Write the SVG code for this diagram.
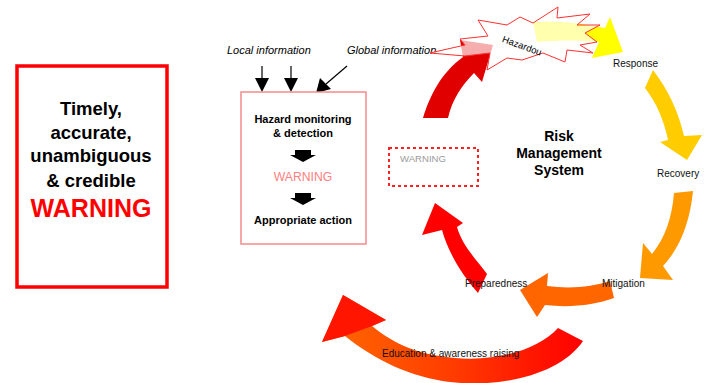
<svg xmlns="http://www.w3.org/2000/svg" width="710" height="383" viewBox="0 0 710 383">
<defs>
<style>
.t{font-family:"Liberation Sans",Arial,sans-serif;fill:#000}
.b{font-weight:bold}
.i{font-style:italic}
.lbl{font-family:"Liberation Sans",Arial,sans-serif;font-size:10px;fill:#111}
</style>
<linearGradient id="edu" x1="0" y1="0" x2="1" y2="0">
<stop offset="0" stop-color="#ff6a00"/>
<stop offset="0.5" stop-color="#ff3c00"/>
<stop offset="1" stop-color="#ff0000"/>
</linearGradient>
<marker id="ah" viewBox="0 0 10 10" refX="9" refY="5" markerWidth="5" markerHeight="5.5" orient="auto" markerUnits="userSpaceOnUse">
<path d="M0,0 L10,5 L0,10 Z" fill="#000"/>
</marker>
</defs>
<rect width="710" height="383" fill="#fff"/>

<g id="warning-box">
<rect x="17" y="66" width="150" height="221" fill="#fff" stroke="#ff0000" stroke-width="3.5"/>
<text class="t b" x="91" y="115" font-size="18.5" text-anchor="middle">Timely,</text>
<text class="t b" x="91" y="139" font-size="18.5" text-anchor="middle">accurate,</text>
<text class="t b" x="91" y="162" font-size="18.5" text-anchor="middle">unambiguous</text>
<text class="t b" x="91" y="187" font-size="18.5" text-anchor="middle">&amp; credible</text>
<text class="t b" x="91" y="217" font-size="25" text-anchor="middle" fill="#ff0000" style="fill:#ff0000">WARNING</text>
</g>

<g id="info-labels">
<text class="t i" x="227" y="54" font-size="11">Local information</text>
<text class="t i" x="347" y="54" font-size="11">Global information</text>
</g>

<g id="connectors">
<line x1="262" y1="66" x2="262" y2="78" stroke="#000" stroke-width="1.2"/>
<path d="M255,78 L269,78 L262,92 Z" fill="#000"/>
<line x1="291" y1="66" x2="291" y2="78" stroke="#000" stroke-width="1.2"/>
<path d="M284,78 L298,78 L291,92 Z" fill="#000"/>
<line x1="347" y1="66" x2="326" y2="84" stroke="#000" stroke-width="1.2"/>
<path d="M320,78 L331,89 L316,93 Z" fill="#000"/>
</g>

<g id="monitoring-box">
<rect x="241" y="92" width="125" height="152" fill="#fff" stroke="#f58a8a" stroke-width="1.5"/>
<text class="t b" x="303" y="123" font-size="11" text-anchor="middle">Hazard monitoring</text>
<text class="t b" x="303" y="137" font-size="11" text-anchor="middle">&amp; detection</text>
<path d="M295,150 L311,150 L311,155 L316,155 L303,162 L290,155 L295,155 Z" fill="#000"/>
<text class="t" x="303" y="181" font-size="12.2" text-anchor="middle" style="fill:#ff8080">WARNING</text>
<path d="M295,193 L311,193 L311,198 L316,198 L303,205 L290,198 L295,198 Z" fill="#000"/>
<text class="t b" x="303" y="224" font-size="11" text-anchor="middle">Appropriate action</text>
</g>

<g id="warning-dashed">
<rect x="389" y="148" width="89" height="38" fill="none" stroke="#ff2020" stroke-width="2" stroke-dasharray="3,3"/>
<text class="t" x="400" y="162" font-size="9.6" style="fill:#9a9a9a">WARNING</text>
</g>

<g id="rms-title">
<text class="t b" x="559" y="141" font-size="14" text-anchor="middle">Risk</text>
<text class="t b" x="559" y="158" font-size="14" text-anchor="middle">Management</text>
<text class="t b" x="559" y="175" font-size="14" text-anchor="middle">System</text>
</g>

<g id="arrow-warning">
<path d="M423,118 C430,95 442,72 463,57 L460,40 L493,45 L482,82 L474,73 C462,85 452,100 448,118 Z" fill="#e00000"/>
</g>
<g id="arrow-response">
<path d="M533,22 C560,20 585,24 605,28 L610,17 L623,52 L592,58 L599,42 C580,40 558,40 537,42 Z" fill="#ffff00"/>
</g>

<g id="hazard">
<path d="M430,53 L465,45 L460,39 L488,36 L478,20 L507,25 L520,17 L533,23 L558,7 L557,18 L590,14 L577,25 L600,25 L585,33 L597,42 L580,45 L593,53 L567,50 L565,62 L543,53 L522,60 L507,58 L487,70 L490,53 L465,56 Z" fill="#fff" fill-opacity="0.68" stroke="#ff3030" stroke-width="1"/>
<text class="t" x="522" y="49" font-size="9.5" text-anchor="middle" transform="rotate(20 522 46)">Hazardou</text>
</g>

<g id="arrow-recovery">
<path d="M645,88 L653,70 C668,90 678,110 684,136 L702,135 L687,160 L660,142 L668,140 C664,120 656,102 645,88 Z" fill="#ffcc00"/>
</g>
<g id="arrow-mitigation">
<path d="M674,193 L693,191 C690,222 680,248 663,266 L673,280 L640,278 L643,243 L652,254 C665,238 672,218 674,193 Z" fill="#ff9900"/>
</g>
<g id="arrow-preparedness">
<path d="M610,281 L614,298 C595,305 570,308 545,305 L537,317 L520,290 L548,273 L547,286 C570,289 592,287 610,281 Z" fill="#ff6600"/>
</g>
<g id="arrow-warning-up">
<path d="M478,293 L487,274 C475,258 462,245 457,227 L463,223 L435,203 L422,235 L442,230 C448,252 462,275 478,293 Z" fill="#ff0000"/>
</g>
<g id="arrow-education">
<path d="M583,341 C560,375 500,388 450,382 C410,377 375,360 345,336 L322,342 L343,295 L386,320 L372,326 C395,345 420,355 455,358 C500,362 540,348 558,328 Z" fill="url(#edu)"/>
<path d="M322,342 L343,295 L386,320 L372,326 L345,336 Z" fill="#ff1500"/>
</g>

<g id="cycle-labels">
<text class="lbl" x="613" y="67">Response</text>
<text class="lbl" x="657" y="177">Recovery</text>
<text class="lbl" x="602" y="287" font-size="10.5">Mitigation</text>
<text class="lbl" x="465" y="287">Preparedness</text>
<text class="lbl" x="382" y="357" font-size="10.3">Education &amp; awareness raising</text>
</g>
</svg>
